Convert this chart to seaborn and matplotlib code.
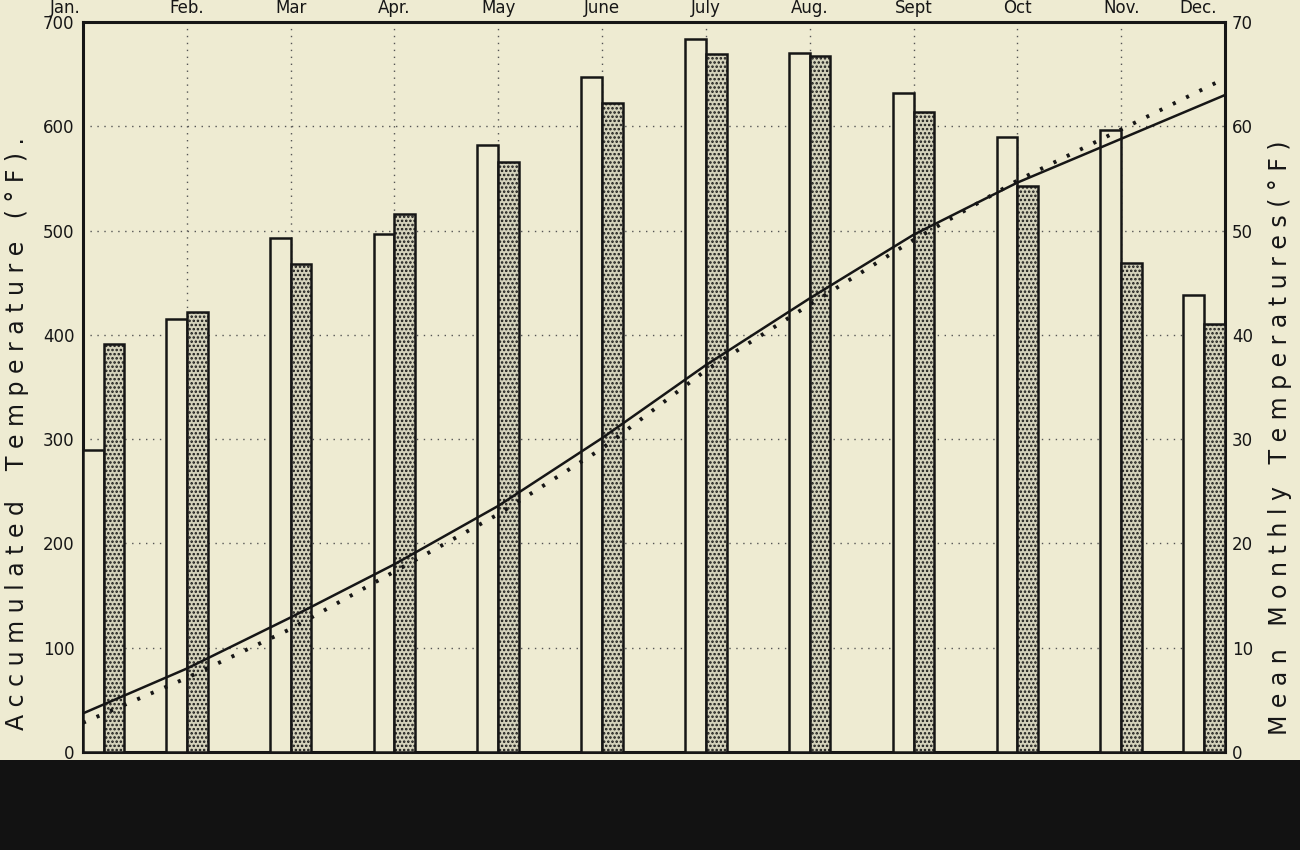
import numpy as np
import pandas as pd
import seaborn as sns
from matplotlib import pyplot as plt

# --------------------------
# data
# --------------------------
months = ['Jan.', 'Feb.', 'Mar', 'Apr.', 'May', 'June', 'July', 'Aug.', 'Sept', 'Oct', 'Nov.', 'Dec.']

# mean monthly temperature (°F), right axis
mean_open = [29.0, 41.5, 49.3, 49.7, 58.2, 64.7, 68.4, 67.0, 63.2, 59.0, 59.6, 43.8]
mean_stipple = [39.1, 42.2, 46.8, 51.6, 56.6, 62.2, 66.9, 66.7, 61.4, 54.3, 46.9, 41.0]

# accumulated temperature (°F), left axis
accum_solid = [37, 80, 129, 180, 236, 301, 371, 435, 496, 546, 588, 630]
accum_dotted = [28, 71, 118, 173, 228, 291, 366, 429, 491, 548, 597, 646]

left_ticks = [0, 100, 200, 300, 400, 500, 600, 700]
right_ticks = [0, 10, 20, 30, 40, 50, 60, 70]

paper = '#eeebd2'
ink = '#161616'

sns.set_theme(style='ticks')
plt.rcParams['font.family'] = ['DejaVu Sans']
plt.rcParams['hatch.linewidth'] = 1.2

fig = plt.figure(figsize=(13, 8.5), dpi=100)
fig.patch.set_facecolor(paper)

# black strip at the bottom of the scan
strip = fig.add_axes([0, 0, 1, 0.106])
strip.set_facecolor('#121212')
strip.set_xticks([])
strip.set_yticks([])
for s in strip.spines.values():
    s.set_visible(False)

ax = fig.add_axes([0.0638, 0.1153, 0.8785, 0.8588])
ax.set_facecolor(paper)

pos = np.arange(len(months))
# bar pair sits on the month line; the end pairs are pushed inside the frame
bw = 0.2
edge = np.clip(pos, bw, pos[-1] - bw)

ax.bar(edge, mean_open, width=-bw, align='edge', facecolor=paper,
       edgecolor=ink, linewidth=1.8, zorder=3)
ax.bar(edge, mean_stipple, width=bw, align='edge', facecolor='#d4d2bb',
       edgecolor=ink, linewidth=1.8, hatch='....', zorder=3)

ax.set_xlim(0, pos[-1])
ax.set_ylim(0, 70)
ax.set_xticks(pos[1:-1])
ax.set_xticklabels([])
ax.tick_params(axis='x', length=0)
ax.set_yticks(right_ticks)
ax.grid(True, linestyle=(0, (1, 4)), color='#555555', linewidth=1.0, zorder=0)
for s in ax.spines.values():
    s.set_visible(True)
    s.set_color(ink)
    s.set_linewidth(2.2)

# accumulated temperature lines on the left scale
ax2 = ax.twinx()
df = pd.DataFrame({'pos': pos, 'solid': accum_solid, 'dotted': accum_dotted})
sns.lineplot(data=df, x='pos', y='solid', ax=ax2, color=ink, linewidth=1.8, zorder=5)
sns.lineplot(data=df, x='pos', y='dotted', ax=ax2, color=ink, linewidth=2.8,
             linestyle=(0, (0.8, 3.0)), zorder=5)
ax2.set_ylim(0, 700)
ax2.set_xlim(0, pos[-1])
ax2.set_yticks(left_ticks)
ax2.set_xlabel('')
ax2.set_ylabel('')
for s in ax2.spines.values():
    s.set_visible(False)

# swap the sides: left scale for the lines, right scale for the bars
ax2.yaxis.tick_left()
ax2.tick_params(axis='y', length=0, pad=6, labelsize=12, labelcolor=ink)
ax.yaxis.tick_right()
ax.tick_params(axis='y', length=0, pad=5, labelsize=12, labelcolor=ink)

# month names along the top
label_shift = np.zeros(len(months))
label_shift[0] = -0.17
label_shift[-1] = -0.26
for p, name, dx in zip(pos, months, label_shift):
    ax.text(p + dx, 1.019, name, transform=ax.get_xaxis_transform(),
            ha='center', va='center', fontsize=12, color=ink)

fig.text(0.013, 0.49, 'A c c u m u l a t e d    T e m p e r a t u r e   ( ° F ) .',
         rotation=90, ha='center', va='center', fontsize=17, color=ink)
fig.text(0.985, 0.485, 'M e a n   M o n t h l y   T e m p e r a t u r e s ( ° F )',
         rotation=90, ha='center', va='center', fontsize=17, color=ink)

fig.savefig('out.png', dpi=100, facecolor=fig.get_facecolor())
